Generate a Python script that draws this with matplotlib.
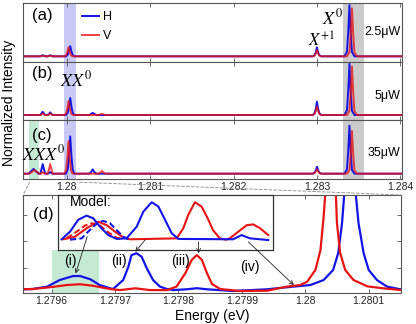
import matplotlib
matplotlib.use("Agg")
import matplotlib.pyplot as plt
from matplotlib.patches import ConnectionPatch
from matplotlib.ticker import FormatStrFormatter

plt.rcParams["font.family"] = ["Liberation Sans", "DejaVu Sans"]
plt.rcParams["mathtext.fontset"] = "stix"

BLUE = "#1414e6"
RED = "#e81414"

# ---- top panels (a)-(c): sampled spectra, H and V polarisation ----
e_h = [1.27947, 1.27954, 1.27957, 1.27960, 1.27963, 1.27966,
       1.27968, 1.279695, 1.27971, 1.279725, 1.27974,
       1.27977, 1.279785, 1.27980, 1.279815, 1.27983,
       1.27999, 1.28001, 1.280025, 1.28004, 1.280055, 1.28007, 1.28009,
       1.28027, 1.28029, 1.28031, 1.28033, 1.28035,
       1.28295, 1.28297, 1.282985, 1.28300, 1.283015, 1.28303, 1.28305,
       1.28333, 1.28336, 1.283375, 1.28339, 1.283405, 1.28342, 1.28345,
       1.28402]
a_h = [0, 0, 0, 0, 0, 0,
       0, 0.01, 0.02, 0.01, 0,
       0, 0.01, 0.02, 0.01, 0,
       0, 0.03, 0.10, 0.19, 0.09, 0.02, 0,
       0, 0, 0, 0, 0,
       0, 0.02, 0.07, 0.17, 0.07, 0.02, 0,
       0, 0.09, 0.45, 0.96, 0.44, 0.08, 0,
       0]
b_h = [0, 0, 0, 0, 0, 0,
       0, 0.03, 0.06, 0.03, 0,
       0, 0.02, 0.05, 0.02, 0,
       0, 0.04, 0.15, 0.32, 0.15, 0.04, 0,
       0, 0.02, 0.04, 0.02, 0,
       0, 0.03, 0.11, 0.25, 0.11, 0.03, 0,
       0, 0.09, 0.45, 0.96, 0.44, 0.08, 0,
       0]
c_h = [0, 0, 0.04, 0.09, 0.04, 0,
       0, 0.08, 0.18, 0.08, 0,
       0, 0.01, 0.03, 0.01, 0,
       0, 0.08, 0.33, 0.70, 0.32, 0.07, 0,
       0, 0.03, 0.08, 0.03, 0,
       0, 0.02, 0.06, 0.13, 0.06, 0.02, 0,
       0, 0.08, 0.42, 0.90, 0.41, 0.07, 0,
       0]

e_v = [1.27947, 1.27955, 1.27958, 1.27961, 1.27964, 1.27967,
       1.27969, 1.279695, 1.27971, 1.279725, 1.27974,
       1.27977, 1.279785, 1.27980, 1.279815, 1.27983,
       1.27997, 1.27999, 1.280005, 1.28002, 1.280035, 1.28005, 1.28007,
       1.28038, 1.28040, 1.28042, 1.28044, 1.28046,
       1.28295, 1.28297, 1.282985, 1.28300, 1.283015, 1.28303, 1.28305,
       1.28336, 1.28339, 1.283405, 1.28342, 1.283435, 1.28345, 1.28348,
       1.28402]
a_v = [0, 0, 0, 0, 0, 0,
       0, 0.005, 0.01, 0.005, 0,
       0, 0.005, 0.01, 0.005, 0,
       0, 0.02, 0.08, 0.17, 0.08, 0.02, 0,
       0, 0, 0, 0, 0,
       0, 0.01, 0.05, 0.12, 0.05, 0.01, 0,
       0, 0.08, 0.42, 0.90, 0.41, 0.07, 0,
       0]
b_v = [0, 0, 0, 0, 0, 0,
       0, 0.01, 0.03, 0.01, 0,
       0, 0.01, 0.03, 0.01, 0,
       0, 0.03, 0.12, 0.26, 0.12, 0.03, 0,
       0, 0.01, 0.02, 0.01, 0,
       0, 0.02, 0.07, 0.16, 0.07, 0.02, 0,
       0, 0.08, 0.42, 0.91, 0.41, 0.07, 0,
       0]
c_v = [0, 0, 0.03, 0.07, 0.03, 0,
       0, 0.01, 0.03, 0.01, 0,
       0, 0.08, 0.18, 0.08, 0,
       0, 0.07, 0.29, 0.61, 0.28, 0.06, 0,
       0, 0.02, 0.05, 0.02, 0,
       0, 0.01, 0.04, 0.08, 0.04, 0.01, 0,
       0, 0.07, 0.37, 0.80, 0.36, 0.06, 0,
       0]

panel_tags = ["(a)", "(b)", "(c)"]
tag_y = [0.79, 0.79, 0.74]
powers = ["2.5\u03bcW", "5\u03bcW", "35\u03bcW"]
power_y = [0.51, 0.42, 0.45]
top_ticks = [1.280, 1.281, 1.282, 1.283, 1.284]

# highlighted spectral windows (eV)
xx_band = (1.27996, 1.28011)
x0_band = (1.28331, 1.28357)
xxx_band = (1.27955, 1.27966)

# ---- panel (d): zoom on the XX0 region ----
d_e_h = [1.279555, 1.279570, 1.279593, 1.279613, 1.279634, 1.279645, 1.279661,
         1.279676, 1.279692, 1.279697, 1.279713, 1.279721, 1.279726, 1.279734,
         1.279742, 1.279750, 1.279760, 1.279771, 1.279782, 1.279792, 1.279813,
         1.279829, 1.279845, 1.279886, 1.279940, 1.279981, 1.280008, 1.280029,
         1.280044, 1.280052, 1.280058, 1.280062, 1.280070, 1.280079, 1.280084,
         1.280092, 1.280100, 1.280113, 1.280129, 1.280150]
d_i_h = [0.19, 0.20, 0.29, 0.54, 0.69, 0.69, 0.57,
         0.35, 0.23, 0.20, 0.54, 1.03, 1.48, 1.55,
         1.42, 0.99, 0.54, 0.29, 0.20, 0.16, 0.19,
         0.23, 0.19, 0.125, 0.19, 0.29, 0.35, 0.54,
         0.92, 1.56, 2.69, 3.94, 5.5, 3.94, 2.69,
         1.56, 0.92, 0.54, 0.29, 0.19]
d_e_v = [1.279555, 1.279570, 1.279597, 1.279624, 1.279645, 1.279665, 1.279692,
         1.279708, 1.279732, 1.279755, 1.279782, 1.279797, 1.279811, 1.279821,
         1.279829, 1.279837, 1.279845, 1.279853, 1.279866, 1.279897, 1.279940,
         1.279971, 1.279992, 1.280003, 1.280016, 1.280024, 1.280029, 1.280032,
         1.280040, 1.280048, 1.280050, 1.280055, 1.280063, 1.280076, 1.280098,
         1.280123, 1.280150]
d_i_v = [0.19, 0.20, 0.265, 0.35, 0.38, 0.325, 0.20,
         0.16, 0.227, 0.16, 0.16, 0.29, 0.80, 1.30,
         1.48, 1.30, 0.80, 0.39, 0.20, 0.125, 0.137,
         0.29, 0.35, 0.476, 0.92, 1.67, 2.93, 3.94,
         5.5, 3.94, 2.69, 1.56, 0.92, 0.54, 0.30,
         0.227, 0.163]
d_ticks = [1.2796, 1.2797, 1.2798, 1.2799, 1.2800, 1.2801]
green_band = (1.27960, 1.279675)

# ---- inset "Model:" curves (arbitrary units) ----
m_blue_u = [1.7, 5.6, 9.4, 13.3, 16.4, 19.5, 23.4, 27.3, 31.9, 36.6, 39.7,
            43.6, 46.7, 49.8, 52.9, 56.0, 81.4, 85.4, 89.3, 97.8]
m_blue_v = [0.02, 0.22, 0.53, 0.64, 0.57, 0.35, 0.13, 0.03, 0.045, 0.35, 0.745,
            0.99, 0.876, 0.53, 0.176, 0.03, 0.02, 0.13, 0.045, 0.0]
m_blue_d_u = [5.6, 11.0, 13.3, 15.7, 18.7, 21.1, 24.2, 27.3, 30.4, 32.7]
m_blue_d_v = [0.01, 0.045, 0.18, 0.31, 0.47, 0.50, 0.44, 0.26, 0.087, 0.02]
m_red_d_u = [4.0, 8.7, 12.6, 15.7, 19.5, 23.4, 27.3, 30.4]
m_red_d_v = [0.045, 0.22, 0.38, 0.44, 0.38, 0.20, 0.06, 0.02]
m_red_u = [2.5, 7.9, 13.3, 18.7, 22.7, 26.5, 30.4, 33.5, 55.2, 58.3, 60.6,
           63.7, 66.8, 69.8, 72.1, 75.3, 78.1, 79.9, 83.9, 87.8, 90.8, 94.0, 97.8]
m_red_v = [0.02, 0.087, 0.31, 0.48, 0.39, 0.22, 0.07, 0.02, 0.045, 0.31, 0.66,
           0.99, 0.876, 0.55, 0.26, 0.045, 0.01, 0.045, 0.22, 0.39, 0.41, 0.31, 0.13]

# arrows: (label, label pos in d, tip in d, tail in inset)
arrows = [
    ("(i)", (1.279629, 1.26), (1.279638, 0.79), (13.6, 0.09)),
    ("(ii)", (1.279706, 1.26), (1.279732, 1.61), (40.5, 0.0)),
    ("(iii)", (1.279803, 1.26), (1.279832, 1.55), (65.3, -0.045)),
    ("(iv)", (1.279913, 1.03), (1.279982, 0.35), (88.5, -0.045)),
]

SPINE = "#555555"


def style_axes(ax):
    for s in ax.spines.values():
        s.set_color(SPINE)
        s.set_linewidth(0.8)
    ax.tick_params(direction="in", top=True, right=True, length=3,
                   width=0.6, color=SPINE, labelsize=7.5, labelcolor="#222222",
                   pad=2)


fig = plt.figure(figsize=(4.16, 3.24), dpi=100)

top_axes = []
h = 0.1811
bottoms = [0.8097, 0.6286, 0.4475]
spectra = [(a_h, a_v), (b_h, b_v), (c_h, c_v)]
for k in range(3):
    ax = fig.add_axes([0.0546, bottoms[k], 0.9117, h])
    style_axes(ax)
    ax.axvspan(*xx_band, color="#c9c9f5", lw=0, zorder=0)
    ax.axvspan(*x0_band, color="#cbcbcb", lw=0, zorder=0)
    if k == 2:
        ax.axvspan(*xxx_band, color="#c4ead4", lw=0, zorder=0)
    ih, iv = spectra[k]
    lh, = ax.plot(e_h, ih, color=BLUE, lw=1.4, label="H")
    lv, = ax.plot(e_v, iv, color=RED, lw=1.4, alpha=0.8, label="V")
    ax.set_xlim(1.27947, 1.28402)
    ax.set_ylim(-0.1, 1.0)
    ax.set_yticks([])
    ax.set_xticks(top_ticks)
    ax.xaxis.set_major_formatter(FormatStrFormatter("%g"))
    if k < 2:
        ax.tick_params(labelbottom=False)
    ax.text(0.051, tag_y[k], panel_tags[k], transform=ax.transAxes,
            fontsize=12, ha="center", va="center")
    ax.text(0.995, power_y[k], powers[k], transform=ax.transAxes,
            fontsize=9, ha="right", va="center")
    top_axes.append(ax)

ax_a, ax_b, ax_c = top_axes
ax_a.legend(handles=[lh, lv], loc="upper left", bbox_to_anchor=(0.155, 0.86),
            frameon=False, fontsize=9, handlelength=1.4, handletextpad=0.3,
            labelspacing=0.55, borderpad=0, borderaxespad=0)
ax_a.text(1.28332, 0.60, r"$X^0$", fontsize=13, ha="right", va="baseline")
ax_a.text(1.28305, 0.18, r"$X^{+1}$", fontsize=12, ha="center", va="baseline")
ax_b.text(1.27992, 0.545, r"$XX^0$", fontsize=13, ha="left", va="baseline")
ax_c.text(1.27946, 0.25, r"$XXX^0$", fontsize=13, ha="left", va="baseline")

fig.text(0.0216, 0.682, "Normalized Intensity", rotation=90, fontsize=10,
         ha="center", va="center")

# ---- panel (d) ----
ax_d = fig.add_axes([0.0553, 0.0957, 0.9087, 0.3025])
style_axes(ax_d)
ax_d.axvspan(*green_band, ymin=0, ymax=0.44, color="#c4ead4", lw=0, zorder=0)
ax_d.plot(d_e_h, d_i_h, color=BLUE, lw=1.6)
ax_d.plot(d_e_v, d_i_v, color=RED, lw=1.6)
ax_d.set_xlim(1.279555, 1.280151)
ax_d.set_ylim(0.05, 3.75)
ax_d.set_yticks([1, 2, 3])
ax_d.tick_params(labelleft=False)
ax_d.set_xticks(d_ticks)
ax_d.xaxis.set_major_formatter(FormatStrFormatter("%g"))
ax_d.set_xlabel("Energy (eV)", fontsize=10, labelpad=2)
ax_d.text(0.053, 0.8, "(d)", transform=ax_d.transAxes, fontsize=12,
          ha="center", va="center")
for lab, lp, tip, tail in arrows:
    ax_d.text(lp[0], lp[1], lab, fontsize=10, ha="center", va="center")

# zoom guide lines
for xa, xd in [(1.279555, 0), (1.280151, 1)]:
    con = ConnectionPatch(xyA=(xa, -0.16), coordsA=ax_c.transData,
                          xyB=(xd, 1), coordsB=ax_d.transAxes,
                          color="#999999", lw=0.7, ls=(0, (3, 2)))
    fig.add_artist(con)

# inset
ax_in = fig.add_axes([0.1394, 0.2284, 0.5168, 0.1698])
ax_in.set_facecolor("white")
for s in ax_in.spines.values():
    s.set_color("#333333")
    s.set_linewidth(0.9)
ax_in.set_xticks([])
ax_in.set_yticks([])
ax_in.plot(m_red_u, m_red_v, color=RED, lw=1.5)
ax_in.plot(m_red_d_u, m_red_d_v, color=RED, lw=1.5, ls=(0, (3, 1.5)))
ax_in.plot(m_blue_d_u, m_blue_d_v, color=BLUE, lw=1.5, ls=(0, (3, 1.5)))
ax_in.plot(m_blue_u, m_blue_v, color=BLUE, lw=1.5)
ax_in.set_xlim(0, 100)
ax_in.set_ylim(-0.26, 1.18)
ax_in.text(5.5, 1.0, "Model:", fontsize=10, ha="left", va="center")
for lab, lp, tip, tail in arrows:
    ax_in.annotate("", xy=tip, xycoords=ax_d.transData,
                   xytext=tail, textcoords="data", annotation_clip=False,
                   arrowprops=dict(arrowstyle="->", lw=0.6, color="#222222",
                                   shrinkA=0, shrinkB=0, mutation_scale=7))

fig.savefig("out.png", dpi=100)
